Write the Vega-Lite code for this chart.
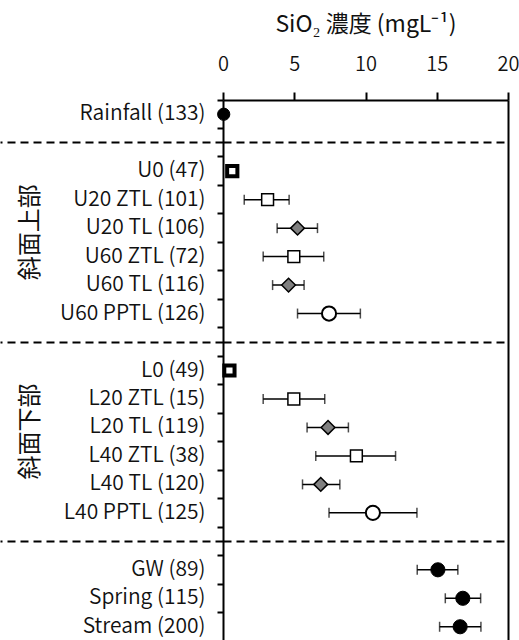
{
  "$schema": "https://vega.github.io/schema/vega-lite/v6.json",
  "autosize": {"type": "none"},
  "padding": {"left": 223, "top": 100, "right": 11, "bottom": 0},
  "width": 285,
  "height": 541,
  "config": {
    "font": "Noto Sans CJK JP",
    "view": {"stroke": null},
    "axis": {"labelColor": "#111", "titleColor": "#111", "domainColor": "#000", "tickColor": "#000", "labelFontWeight": 350}
  },
  "data": {
    "values": [
      {"name": "Rainfall (133)", "type": "rain", "mean": 0.05, "lo": null, "hi": null},
      {"name": "U0 (47)", "type": "zero", "mean": 0.65, "lo": null, "hi": null},
      {"name": "U20 ZTL (101)", "type": "ztl", "mean": 3.13, "lo": 1.49, "hi": 4.64},
      {"name": "U20 TL (106)", "type": "tl", "mean": 5.23, "lo": 3.8, "hi": 6.63},
      {"name": "U60 ZTL (72)", "type": "ztl", "mean": 4.97, "lo": 2.82, "hi": 7.07},
      {"name": "U60 TL (116)", "type": "tl", "mean": 4.6, "lo": 3.48, "hi": 5.69},
      {"name": "U60 PPTL (126)", "type": "pptl", "mean": 7.44, "lo": 5.23, "hi": 9.64},
      {"name": "L0 (49)", "type": "zero", "mean": 0.45, "lo": null, "hi": null},
      {"name": "L20 ZTL (15)", "type": "ztl", "mean": 4.97, "lo": 2.82, "hi": 7.14},
      {"name": "L20 TL (119)", "type": "tl", "mean": 7.37, "lo": 5.9, "hi": 8.8},
      {"name": "L40 ZTL (38)", "type": "ztl", "mean": 9.36, "lo": 6.51, "hi": 12.11},
      {"name": "L40 TL (120)", "type": "tl", "mean": 6.86, "lo": 5.58, "hi": 8.2},
      {"name": "L40 PPTL (125)", "type": "pptl", "mean": 10.52, "lo": 7.44, "hi": 13.61},
      {"name": "GW (89)", "type": "water", "mean": 15.08, "lo": 13.63, "hi": 16.48},
      {"name": "Spring (115)", "type": "water", "mean": 16.83, "lo": 15.6, "hi": 18.08},
      {"name": "Stream (200)", "type": "water", "mean": 16.64, "lo": 15.2, "hi": 18.1}
    ]
  },
  "resolve": {"axis": {"y": "independent"}},
  "layer": [
    {
      "mark": {"type": "rule", "color": "#000", "strokeWidth": 1.5},
      "encoding": {
        "x": {
          "field": "lo", "type": "quantitative",
          "title": "SiO₂ 濃度 (mgL⁻¹)",
          "scale": {"domain": [0, 20], "nice": false, "zero": true},
          "axis": {
            "orient": "top", "values": [0, 5, 10, 15, 20],
            "labelFontSize": 20, "labelPadding": 18, "labelFlush": false,
            "tickSize": 8, "tickWidth": 2, "domainWidth": 2, "grid": false,
            "titleFontSize": 23, "titleFontWeight": 400, "titlePadding": 18
          }
        },
        "x2": {"field": "hi"},
        "y": {
          "field": "name", "type": "nominal",
          "scale": {"domain": ["Rainfall (133)", "sep1", "U0 (47)", "U20 ZTL (101)", "U20 TL (106)", "U60 ZTL (72)", "U60 TL (116)", "U60 PPTL (126)", "sep2", "L0 (49)", "L20 ZTL (15)", "L20 TL (119)", "L40 ZTL (38)", "L40 TL (120)", "L40 PPTL (125)", "sep3", "GW (89)", "Spring (115)", "Stream (200)"], "paddingInner": 0, "paddingOuter": 0},
          "axis": {
            "orient": "left", "title": null, "bandPosition": 0,
            "labelExpr": "indexof(datum.value, 'sep') == 0 ? '' : datum.value",
            "labelFontSize": 21, "labelPadding": 12, "tickSize": 6, "tickWidth": 2,
            "domainWidth": 2, "grid": false
          }
        }
      }
    },
    {
      "mark": {"type": "tick", "color": "#000", "thickness": 1.5, "size": 10},
      "encoding": {
        "x": {"field": "lo", "type": "quantitative", "title": "SiO₂ 濃度 (mgL⁻¹)"},
        "y": {
          "field": "name", "type": "nominal",
          "axis": {
            "orient": "left", "title": null,
            "values": ["sep1", "sep2", "sep3"], "bandPosition": 0.5,
            "labels": false, "domain": false,
            "tickSize": 223, "tickWidth": 2, "tickDash": [8, 5],
            "grid": true, "gridColor": "#000", "gridWidth": 2, "gridDash": [8, 5], "gridOpacity": 1
          }
        }
      }
    },
    {
      "mark": {"type": "tick", "color": "#000", "thickness": 1.5, "size": 10},
      "encoding": {
        "x": {"field": "hi", "type": "quantitative", "title": "SiO₂ 濃度 (mgL⁻¹)"},
        "y": {
          "field": "name", "type": "nominal",
          "axis": {
            "orient": "right", "title": null, "labels": false, "ticks": false,
            "domain": true, "domainWidth": 2, "grid": false
          }
        }
      }
    },
    {
      "mark": {"type": "point", "filled": false, "stroke": "#000", "opacity": 1},
      "encoding": {
        "x": {"field": "mean", "type": "quantitative", "title": "SiO₂ 濃度 (mgL⁻¹)"},
        "y": {
          "field": "name", "type": "nominal",
          "axis": {
            "orient": "left", "title": null,
            "values": ["U20 TL (106)", "L20 TL (119)"],
            "labelExpr": "datum.value == 'U20 TL (106)' ? '斜面上部' : '斜面下部'",
            "labelAngle": 270, "labelAlign": "center", "labelBaseline": "middle",
            "labelFontSize": 24, "labelFontWeight": 400, "labelPadding": 193, "labelOffset": 4,
            "ticks": false, "tickSize": 0, "domain": false, "grid": false
          }
        },
        "shape": {
          "field": "type", "type": "nominal", "legend": null,
          "scale": {"type": "ordinal", "domain": ["rain", "zero", "ztl", "tl", "pptl", "water"], "range": ["circle", "square", "square", "diamond", "circle", "circle"]}
        },
        "fill": {
          "field": "type", "type": "nominal", "legend": null,
          "scale": {"type": "ordinal", "domain": ["rain", "zero", "ztl", "tl", "pptl", "water"], "range": ["#000", "#fff", "#fff", "#808080", "#fff", "#000"]}
        },
        "size": {
          "field": "type", "type": "nominal", "legend": null,
          "scale": {"type": "ordinal", "domain": ["rain", "zero", "ztl", "tl", "pptl", "water"], "range": [150, 105, 140, 190, 200, 200]}
        },
        "strokeWidth": {
          "field": "type", "type": "nominal", "legend": null,
          "scale": {"type": "ordinal", "domain": ["rain", "zero", "ztl", "tl", "pptl", "water"], "range": [1, 4, 1.5, 1.5, 2, 1]}
        }
      }
    }
  ]
}
